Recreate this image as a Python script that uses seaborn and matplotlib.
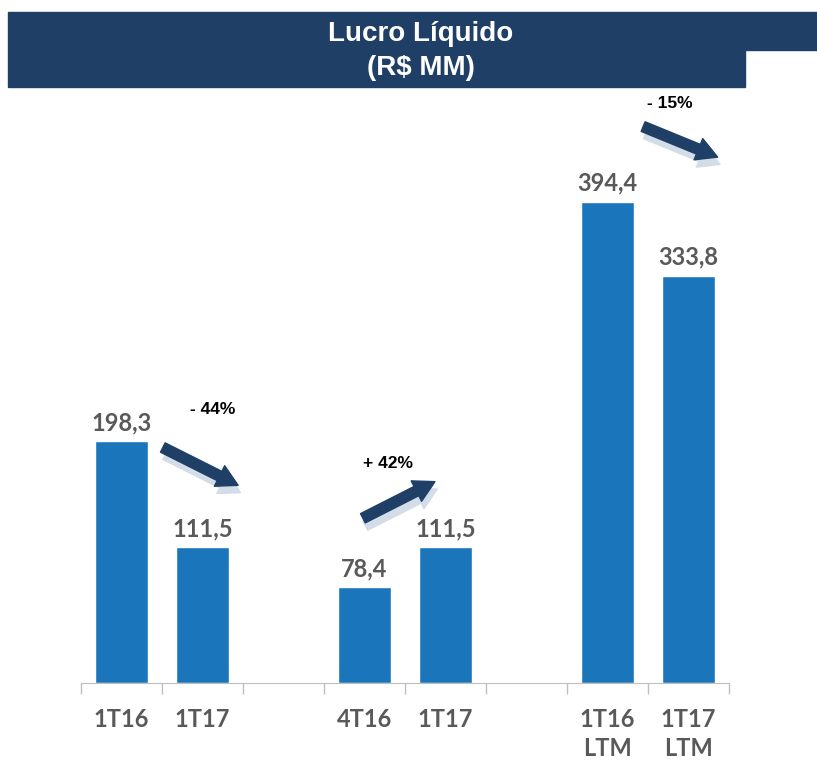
import pandas as pd
import seaborn as sns
import matplotlib.pyplot as plt
from matplotlib.patches import Rectangle

# Data
keys = ["1T16_a", "1T17_a", "gap1", "4T16_b", "1T17_b", "gap2", "1T16_c", "1T17_c"]
tick_labels = ["1T16", "1T17", "", "4T16", "1T17", "", "1T16\nLTM", "1T17\nLTM"]
bar_keys = ["1T16_a", "1T17_a", "4T16_b", "1T17_b", "1T16_c", "1T17_c"]
values = [198.3, 111.5, 78.4, 111.5, 394.4, 333.8]

# Variation arrows: label, label pos, arrow start, arrow end (category index, R$ MM)
var_labels = ["- 44%", "+ 42%", "- 15%"]
var_label_pos = [(1.12, 224), (3.29, 180), (6.77, 475)]
arrow_start = [(0.51, 193), (2.98, 135), (6.44, 456)]
arrow_end = [(1.44, 162), (3.87, 165), (7.36, 431)]

bar_color = "#1b75bb"
navy = "#1f3f66"
label_gray = "#595959"

df = pd.DataFrame({"periodo": bar_keys, "lucro": values})

sns.set_style("white")
plt.rcParams["font.family"] = ["Lato", "DejaVu Sans"]

fig = plt.figure(figsize=(8.17, 7.63), dpi=100)
ax = fig.add_axes([81 / 817, 80 / 763, 648 / 817, 593 / 763])

sns.barplot(data=df, x="periodo", y="lucro", order=keys, color=bar_color,
            width=0.65, saturation=1, ax=ax)

ax.set_xlim(-0.5, 7.5)
ax.set_ylim(0, 486)

# value labels
for cont in ax.containers:
    ax.bar_label(cont, labels=[f"{v:.1f}".replace(".", ",") for v in values],
                 padding=5, fontsize=17, fontweight="bold", color=label_gray)

# axes styling
for s in ["top", "right", "left"]:
    ax.spines[s].set_visible(False)
ax.spines["bottom"].set_color("#bfbfbf")
ax.set_yticks([])
ax.set_xlabel("")
ax.set_ylabel("")
ax.set_xticks(range(len(keys)))
ax.set_xticklabels(tick_labels, fontsize=17, fontweight="bold", color=label_gray,
                   linespacing=1.3)
ax.tick_params(axis="x", which="major", length=0, pad=18)
ax.set_xticks([i - 0.5 for i in range(len(keys) + 1)], minor=True)
ax.tick_params(axis="x", which="minor", bottom=True, direction="out", length=8,
               color="#bfbfbf", width=1)

# arrows with light shadow
for lab, lp, st, en in zip(var_labels, var_label_pos, arrow_start, arrow_end):
    style = "simple,head_width=1.1,head_length=1.0,tail_width=0.5"
    ax.annotate("", xy=(en[0] + 0.03, en[1] - 6), xytext=(st[0] + 0.03, st[1] - 6),
                arrowprops=dict(arrowstyle=style, color="#d3dde8", mutation_scale=15,
                                shrinkA=0, shrinkB=0))
    ax.annotate("", xy=en, xytext=st,
                arrowprops=dict(arrowstyle=style, color=navy, mutation_scale=15,
                                shrinkA=0, shrinkB=0))
    ax.text(lp[0], lp[1], lab, ha="center", va="center", fontsize=12.5,
            fontweight="bold", color="black", family=["Liberation Sans", "DejaVu Sans"])

# title banner
fig.patches.append(Rectangle((8 / 817, 1 - 87 / 763), 737 / 817, 75 / 763,
                             transform=fig.transFigure, color=navy, zorder=0))
fig.patches.append(Rectangle((745 / 817, 1 - 50 / 763), 72 / 817, 38 / 763,
                             transform=fig.transFigure, color=navy, zorder=0))
fig.text(421 / 817, 1 - 34 / 763, "Lucro Líquido", ha="center", va="center",
         color="white", fontsize=20, fontweight="bold", family=["Liberation Sans", "DejaVu Sans"])
fig.text(421 / 817, 1 - 68 / 763, "(R$ MM)", ha="center", va="center",
         color="white", fontsize=20, fontweight="bold", family=["Liberation Sans", "DejaVu Sans"])

fig.savefig("out.png", dpi=100)
